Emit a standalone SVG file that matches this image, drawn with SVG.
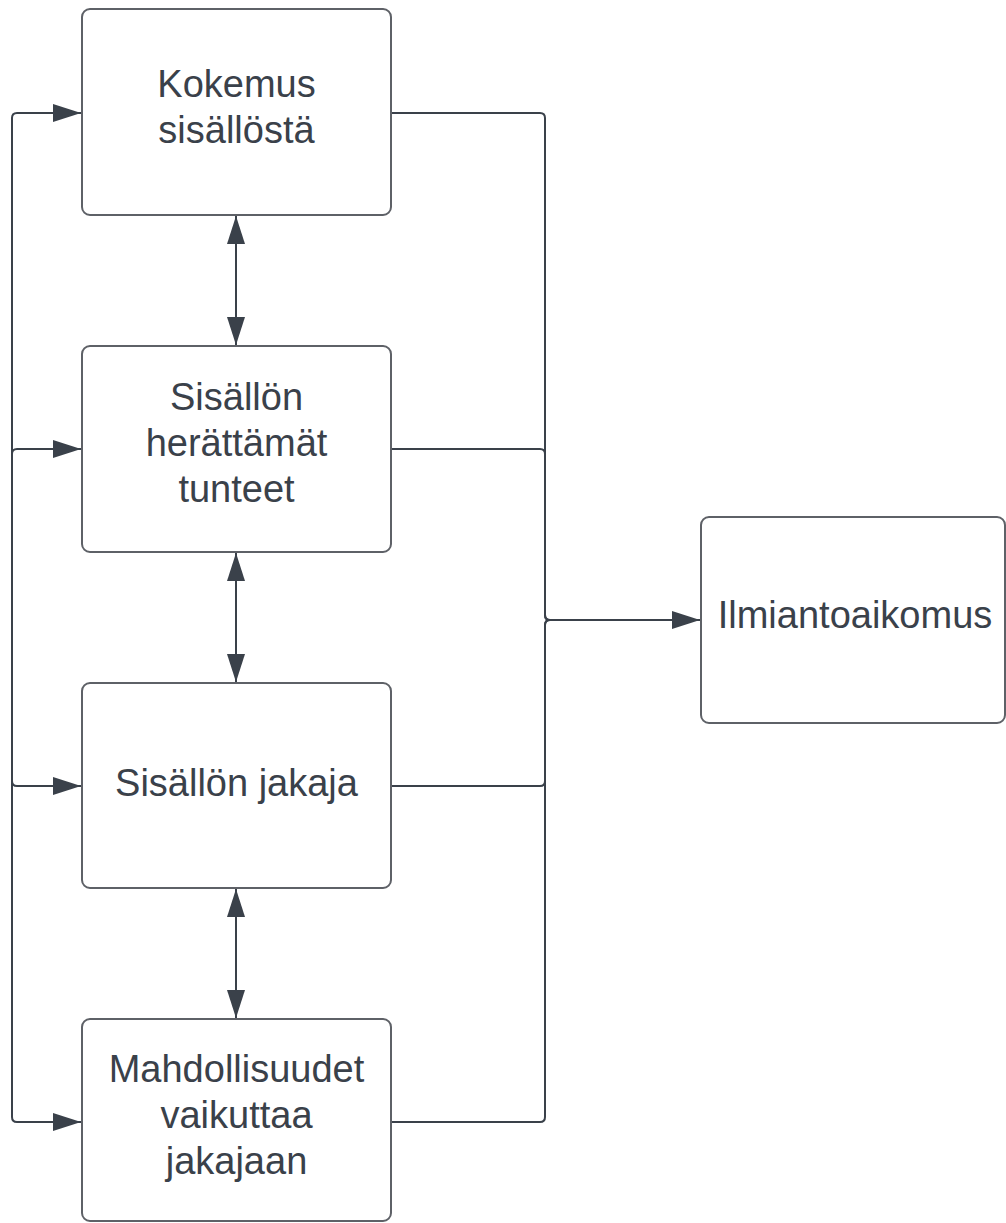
<svg xmlns="http://www.w3.org/2000/svg" width="1006" height="1223" viewBox="0 0 1006 1223">
<style>
.box{fill:#ffffff;stroke:#5e6167;stroke-width:2}
.lbl{font-family:"Liberation Sans",Arial,sans-serif;font-size:38px;fill:#3a414a;text-anchor:middle}
.con{fill:none;stroke:#3a414a;stroke-width:2}
</style>
<defs>
<marker id="ah" viewBox="0 0 28 18" refX="28" refY="9" markerWidth="28" markerHeight="18" markerUnits="userSpaceOnUse" orient="auto-start-reverse">
<path d="M0,0 L28,9 L0,18 Z" fill="#3a414a"/>
</marker>
</defs>
<rect width="1006" height="1223" fill="#ffffff"/>
<g id="connectors">
<path class="con" d="M12,786 V118 Q12,113 17,113 H81" marker-end="url(#ah)"/>
<path class="con" d="M12,786 V454 Q12,449 17,449 H81" marker-end="url(#ah)"/>
<path class="con" d="M12,449 V781 Q12,786 17,786 H81" marker-end="url(#ah)"/>
<path class="con" d="M12,449 V1117 Q12,1122 17,1122 H81" marker-end="url(#ah)"/>
<path class="con" d="M392,113 H540 Q545,113 545,118 V615 Q545,620 550,620 H700" marker-end="url(#ah)"/>
<path class="con" d="M392,449 H540 Q545,449 545,454 V615 Q545,620 550,620 H700"/>
<path class="con" d="M392,786 H540 Q545,786 545,781 V625 Q545,620 550,620 H700"/>
<path class="con" d="M392,1122 H540 Q545,1122 545,1117 V625 Q545,620 550,620 H700"/>
<path class="con" d="M236,216 V345" marker-start="url(#ah)" marker-end="url(#ah)"/>
<path class="con" d="M236,553 V682" marker-start="url(#ah)" marker-end="url(#ah)"/>
<path class="con" d="M236,889 V1018" marker-start="url(#ah)" marker-end="url(#ah)"/>
</g>
<g id="node-kokemus">
<rect class="box" x="82" y="9" width="309" height="206" rx="8"/>
<text class="lbl" x="236.5" y="97">Kokemus</text>
<text class="lbl" x="236.5" y="143">sisällöstä</text>
</g>
<g id="node-tunteet">
<rect class="box" x="82" y="346" width="309" height="206" rx="8"/>
<text class="lbl" x="236.5" y="410">Sisällön</text>
<text class="lbl" x="236.5" y="456">herättämät</text>
<text class="lbl" x="236.5" y="502">tunteet</text>
</g>
<g id="node-jakaja">
<rect class="box" x="82" y="683" width="309" height="205" rx="8"/>
<text class="lbl" x="236.5" y="796">Sisällön jakaja</text>
</g>
<g id="node-mahdollisuudet">
<rect class="box" x="82" y="1019" width="309" height="202" rx="8"/>
<text class="lbl" x="236.5" y="1082">Mahdollisuudet</text>
<text class="lbl" x="236.5" y="1128">vaikuttaa</text>
<text class="lbl" x="236.5" y="1174">jakajaan</text>
</g>
<g id="node-ilmiantoaikomus">
<rect class="box" x="701" y="517" width="304" height="206" rx="8"/>
<text class="lbl" x="855" y="628">Ilmiantoaikomus</text>
</g>
</svg>
